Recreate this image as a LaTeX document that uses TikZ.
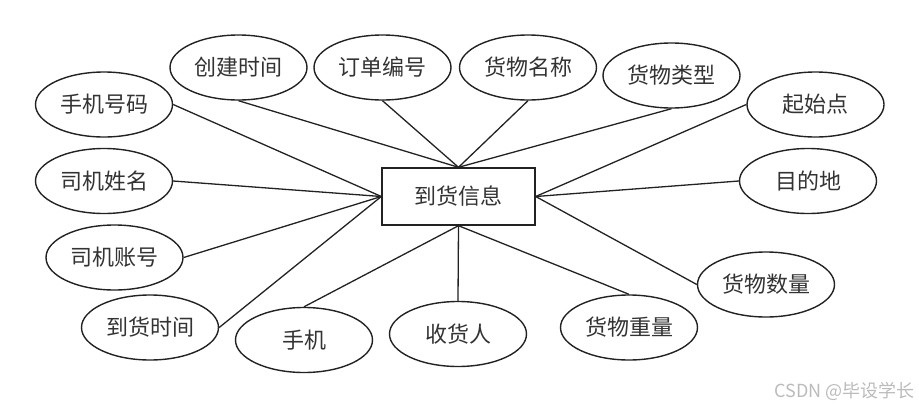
\documentclass[tikz,border=0pt]{standalone}
\usepackage{fontspec}
\newfontfamily\cjk{Noto Sans CJK SC}
\usetikzlibrary{shapes.geometric}
\definecolor{linec}{HTML}{222222}
\definecolor{txtc}{HTML}{333333}
\definecolor{wmc}{HTML}{BBBBBB}
\begin{document}
\begin{tikzpicture}[x=1pt,y=-1pt,
  attr/.style={ellipse, draw=linec, line width=1.4pt, minimum width=137pt, minimum height=65pt, inner sep=0pt, font=\cjk\fontsize{22}{22}\selectfont, text=txtc},
  ent/.style={rectangle, draw=linec, line width=1.4pt, minimum width=153pt, minimum height=57pt, inner sep=0pt, font=\cjk\fontsize{22}{22}\selectfont, text=txtc},
  conn/.style={draw=linec, line width=1.3pt}]
\useasboundingbox (0,0) rectangle (919,408);
\node[ent] (E) at (458.5,196.5) {到货信息};
\node[attr] (ct) at (238.5,67.5) {创建时间};
\node[attr] (dd) at (382.5,67.5) {订单编号};
\node[attr] (mc) at (528,67.5) {货物名称};
\node[attr] (lx) at (671.5,75.5) {货物类型};
\node[attr] (qs) at (815.5,104.5) {起始点};
\node[attr] (md) at (808,181) {目的地};
\node[attr] (sl) at (766,284.5) {货物数量};
\node[attr] (zl) at (629,327.5) {货物重量};
\node[attr] (sh) at (458,334) {收货人};
\node[attr] (sj) at (304,340) {手机};
\node[attr] (dh) at (150,327.5) {到货时间};
\node[attr] (zh) at (114.5,257.5) {司机账号};
\node[attr] (xm) at (104,181) {司机姓名};
\node[attr] (hm) at (104,104.5) {手机号码};
\draw[conn] (hm.east) -- (E.west);
\draw[conn] (xm.east) -- (E.west);
\draw[conn] (zh.east) -- (E.west);
\draw[conn] (dh.east) -- (E.west);
\draw[conn] (ct.south) -- (E.north);
\draw[conn] (dd.south) -- (E.north);
\draw[conn] (mc.south) -- (E.north);
\draw[conn] (lx.south) -- (E.north);
\draw[conn] (qs.west) -- (E.east);
\draw[conn] (md.west) -- (E.east);
\draw[conn] (sl.west) -- (E.east);
\draw[conn] (zl.north) -- (E.south);
\draw[conn] (sh.north) -- (E.south);
\draw[conn] (sj.north) -- (E.south);
\node[font=\cjk\fontsize{18}{18}\selectfont, text=wmc, anchor=east, inner sep=0pt] (wm) at (915,391) {CSDN @毕设学长};
\end{tikzpicture}
\end{document}
